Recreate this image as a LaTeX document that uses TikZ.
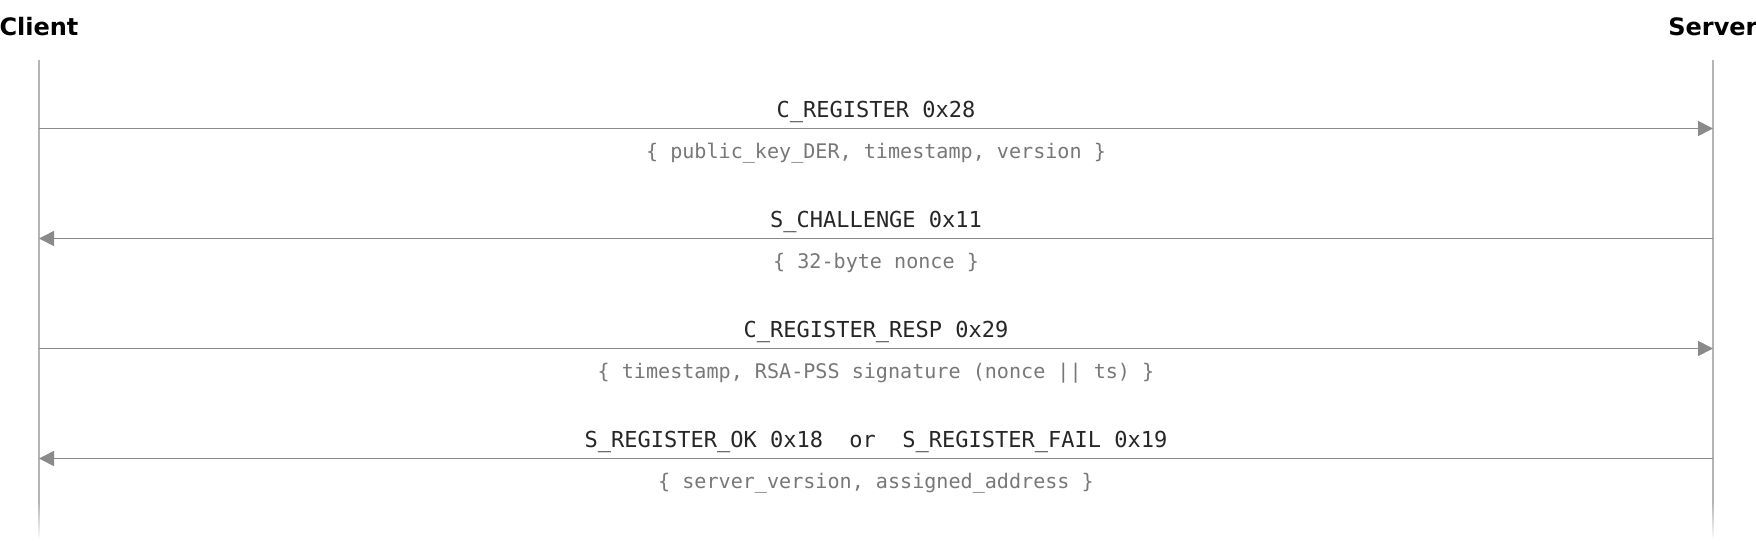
\documentclass[tikz,border=0pt]{standalone}
\usepackage{fontspec}
\usepackage{xcolor}
\usepackage{tikz}
\usetikzlibrary{arrows.meta,positioning}

\newfontfamily\headfont{DejaVu Sans}
\newfontfamily\msgfont{DejaVu Sans Mono}

\definecolor{lifegray}{HTML}{B4B4B4}
\definecolor{arrowgray}{HTML}{8A8A8A}
\definecolor{msgdark}{HTML}{262626}
\definecolor{paygray}{HTML}{777777}

\tikzset{
	party/.style={font=\headfont\bfseries\fontsize{24}{28}\selectfont, anchor=base, inner sep=0pt},
	msglabel/.style={font=\msgfont\fontsize{22}{26}\selectfont, text=msgdark, anchor=base, inner sep=0pt},
	payload/.style={font=\msgfont\fontsize{20.1}{24}\selectfont, text=paygray, anchor=base, inner sep=0pt},
	lifeline/.style={draw=lifegray, line width=1.8pt},
	msgarrow/.style={draw=arrowgray, line width=1.6pt, -{Triangle[length=15pt,width=15pt]}}
}

\begin{document}
\begin{tikzpicture}[x=1pt,y=-1pt]

			\def \xc {39}
			\def \xs {1713}
			\def \xm {876}

			\useasboundingbox (0,0) rectangle (1756,552);

			\node[party] (client) at (\xc,35) {Client};
			\node[party] (server) at (\xs,35) {Server};

			% lifelines, fading out at the bottom
			\coordinate (ctop) at (\xc,60);
			\coordinate (cbot) at (\xc,502);
			\coordinate (stop) at (\xs,60);
			\coordinate (sbot) at (\xs,502);
			\draw[lifeline] (ctop) -- (cbot);
			\draw[lifeline] (stop) -- (sbot);
			\shade[top color=lifegray, bottom color=white] (\xc-0.9,502) rectangle (\xc+0.9,540);
			\shade[top color=lifegray, bottom color=white] (\xs-0.9,502) rectangle (\xs+0.9,540);

			% message arrows
			\foreach \i/\a/\b in {1/c/s,2/s/c,3/c/s,4/s/c} {
			    \pgfmathsetmacro \y {128.5+(\i-1)*110}
			    \coordinate (c\i) at (\xc,\y);
			    \coordinate (s\i) at (\xs,\y);
			    \draw[msgarrow] (\a\i) -- (\b\i);
			}

			\node[msglabel] (lab1) at (\xm,117) {C\_REGISTER 0x28};
			\node[payload] (pay1) at (\xm,158) {\{ public\_key\_DER, timestamp, version \}};
			\node[msglabel] (lab2) at (\xm,227) {S\_CHALLENGE 0x11};
			\node[payload] (pay2) at (\xm,268) {\{ 32-byte nonce \}};
			\node[msglabel] (lab3) at (\xm,337) {C\_REGISTER\_RESP 0x29};
			\node[payload] (pay3) at (\xm,378) {\{ timestamp, RSA-PSS signature (nonce || ts) \}};
			\node[msglabel] (lab4) at (\xm,447) {S\_REGISTER\_OK 0x18\ \ or\ \ S\_REGISTER\_FAIL 0x19};
			\node[payload] (pay4) at (\xm,488) {\{ server\_version, assigned\_address \}};

\end{tikzpicture}
\end{document}
